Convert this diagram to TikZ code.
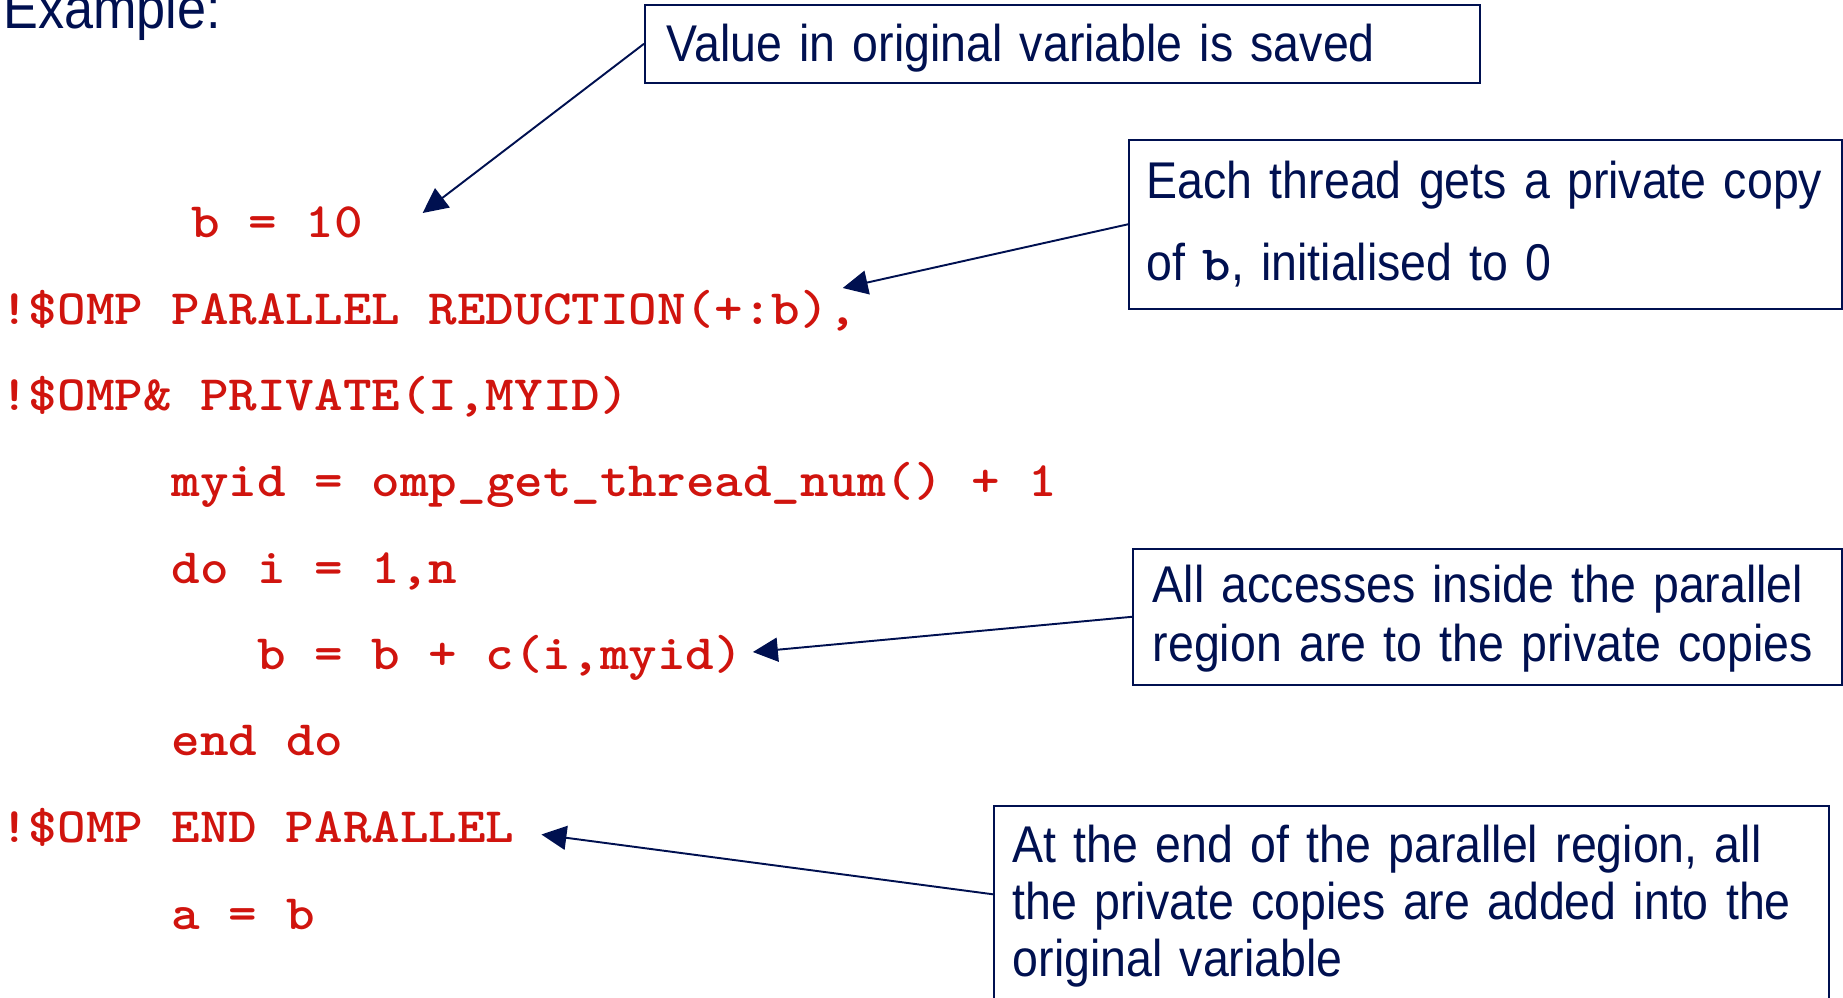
\documentclass[tikz,border=0pt]{standalone}
\usepackage{fontspec}
\setmainfont{Liberation Sans}[FakeStretch=0.9]
\newfontfamily\codefont{lmmonolt10-bold}[Extension=.otf, FakeStretch=1.1]
\usetikzlibrary{arrows.meta}
\definecolor{slideNavy}{RGB}{0, 16, 80}
\definecolor{codeRed}{RGB}{208, 20, 14}
\newcommand{\codeb}{{\codefont\fontsize{28pt}{28pt}\selectfont b}}

\begin{document}
\begin{tikzpicture}[
  codeline/.style={anchor=base west, inner sep=0pt, text=codeRed,
    font=\codefont\fontsize{28.15pt}{28.15pt}\selectfont},
  note/.style={
    rectangle,
    draw=slideNavy,
    line width=0.9pt,
    anchor=north west,
    inner ysep=0pt,
    align=left,
    text=slideNavy
  },
  link/.style={draw=slideNavy, line width=1.1pt, -{Triangle[length=0.5cm, width=0.48cm]}}
]
  \useasboundingbox (0,0) rectangle (36.86,-19.94);
  \clip (0,0) rectangle (36.86,-19.94);

  % ── Title ──────────────────────────────────────────────────────
  \node[anchor=base west, inner sep=0pt, text=slideNavy,
        font=\fontsize{33pt}{33pt}\selectfont] (title) at (0.06, -0.56) {Example:};

  % ── Code ───────────────────────────────────────────────────────
  \node[codeline] (bten)   at (3.82,  -4.74) {b = 10};
  \node[codeline] (par)    at (0.00,  -6.48) {!\$OMP PARALLEL REDUCTION(+:b),};
  \node[codeline] (priv)   at (0.00,  -8.20) {!\$OMP\& PRIVATE(I,MYID)};
  \node[codeline] (myid)   at (3.43,  -9.92) {myid = omp\_get\_thread\_num() + 1};
  \node[codeline] (doloop) at (3.43, -11.66) {do i = 1,n};
  \node[codeline] (accum)  at (5.14, -13.38) {b = b + c(i,myid)};
  \node[codeline] (enddo)  at (3.43, -15.10) {end do};
  \node[codeline] (endpar) at (0.00, -16.84) {!\$OMP END PARALLEL};
  \node[codeline] (assign) at (3.43, -18.58) {a = b};

  % ── Notes ──────────────────────────────────────────────────────
  \node[note, inner xsep=0.44cm, text width=15.82cm, text height=1.14cm, text depth=0.42cm,
        font=\fontsize{29.4pt}{29.4pt}\selectfont]
        (saved) at (12.88, -0.08) {Value in original variable is saved};
  \node[note, inner xsep=0.36cm, text width=13.54cm, text height=1.17cm, text depth=2.21cm,
        font=\fontsize{29.4pt}{46.9pt}\selectfont]
        (copy) at (22.56, -2.78) {Each thread gets a private copy\\of \codeb, initialised to 0};
  \node[note, inner xsep=0.40cm, text width=13.38cm, text height=1.08cm, text depth=1.64cm,
        font=\fontsize{29.4pt}{33.3pt}\selectfont]
        (access) at (22.64, -10.96) {All accesses inside the parallel\\region are to the private copies};
  \node[note, inner xsep=0.38cm, text width=15.94cm, text height=1.14cm, text depth=2.76cm,
        font=\fontsize{29.4pt}{32.3pt}\selectfont]
        (added) at (19.86, -16.10) {At the end of the parallel region, all\\the private copies are added into the\\original variable};

  % ── Arrows ─────────────────────────────────────────────────────
  \draw[link] (saved.west)  -- ([shift={(1.19,0.48)}]bten.base east);
  \draw[link] (copy.west)   -- ([shift={(-0.30,0.72)}]par.base east);
  \draw[link] (access.west) -- ([shift={(0.19,0.34)}]accum.base east);
  \draw[link] ([yshift=0.18cm]added.west) -- ([shift={(0.53,0.15)}]endpar.base east);

\end{tikzpicture}
\end{document}
